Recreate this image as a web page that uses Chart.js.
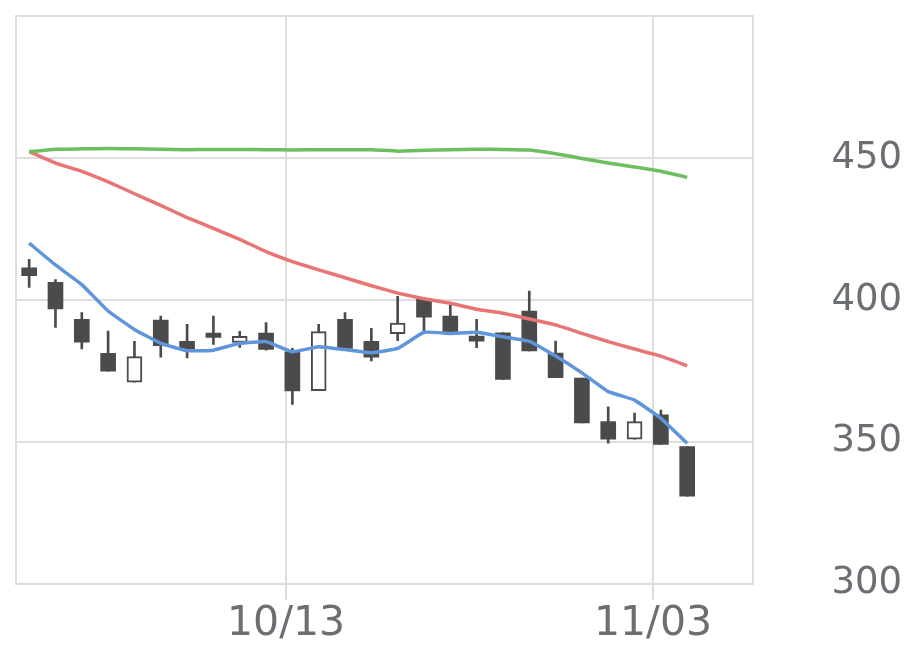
<!DOCTYPE html>
<html>
<head>
<meta charset="utf-8">
<script src="https://cdn.jsdelivr.net/npm/chart.js@4.4.1/dist/chart.umd.min.js"></script>
<style>
  html, body { margin: 0; padding: 0; background: #fff; }
  #wrap { width: 920px; height: 669px; }
</style>
</head>
<body>
<div id="wrap"><canvas id="stockChart" width="920" height="669"></canvas></div>
<script>
// trading days (index on the x axis)
const dates = ['09/29', '09/30', '10/01', '10/02', '10/03', '10/06', '10/07', '10/08', '10/09', '10/10',
    '10/14', '10/15', '10/16', '10/17', '10/20', '10/21', '10/22', '10/23', '10/24', '10/27',
    '10/28', '10/29', '10/30', '10/31', '11/04', '11/05'];

const opens  = [411.3, 406.2, 393.2, 381.2, 371.0, 392.9, 385.4, 388.3, 385.0, 388.3,
    381.7, 368.0, 393.2, 385.4, 388.1, 400.3, 394.3, 387.3, 388.4, 396.1,
    381.3, 372.5, 357.1, 350.9, 359.5, 348.3];
const highs  = [414.3, 407.2, 395.5, 389.0, 385.4, 394.3, 391.4, 394.3, 388.9, 392.0,
    382.9, 391.4, 395.5, 390.0, 401.3, 400.8, 398.2, 393.2, 388.4, 403.1,
    385.5, 372.5, 362.3, 360.1, 361.2, 348.3];
const lows   = [404.4, 390.3, 382.7, 374.9, 371.0, 379.8, 379.6, 384.3, 383.3, 382.3,
    363.2, 368.0, 382.8, 378.5, 385.6, 388.8, 388.2, 383.2, 372.0, 382.0,
    372.6, 356.7, 349.5, 350.9, 349.1, 330.9];
const closes = [408.5, 396.8, 385.1, 374.9, 380.0, 383.9, 382.6, 386.8, 387.2, 382.6,
    367.9, 388.8, 382.9, 379.8, 391.8, 393.9, 388.2, 385.5, 372.0, 382.0,
    372.6, 356.7, 350.9, 357.1, 349.1, 330.9];

// moving averages
const maShort = [420.0, 412.3, 405.4, 396.1, 389.6, 384.7, 382.1, 382.3, 384.7, 385.3,
    381.7, 383.5, 382.5, 381.4, 382.9, 388.6, 388.2, 388.6, 387.0, 385.4,
    380.2, 374.3, 367.7, 364.7, 358.3, 349.5];
const maMid   = [452.2, 448.2, 445.3, 441.6, 437.4, 433.3, 429.0, 425.2, 421.3, 417.0,
    413.5, 410.6, 407.8, 405.0, 402.4, 400.4, 398.8, 396.7, 395.3, 393.3,
    391.2, 388.2, 385.3, 382.7, 380.2, 376.8];
const maLong  = [452.2, 453.1, 453.2, 453.3, 453.2, 453.1, 452.9, 453.0, 453.0, 452.9,
    452.8, 452.9, 452.9, 452.9, 452.4, 452.7, 452.9, 453.1, 453.0, 452.8,
    451.5, 449.8, 448.2, 446.8, 445.3, 443.2];

// date ticks (holidays fall between trading days)
const tickLabels = ['10/13', '11/03'];
const tickAt = [9.76, 23.7];

const DARK = '#4b4b4b';
const GRID = '#dedede';
const TEXT = '#6b6e73';

const bodies = dates.map((d, i) => ({ x: i, y: [opens[i], closes[i]] }));
const wicks = dates.map((d, i) => ({ x: i, y: [lows[i], highs[i]] }));
const up = dates.map((d, i) => closes[i] > opens[i]);

function maLine(values, color) {
    return {
        type: 'line',
        data: values.map((v, i) => ({ x: i, y: v })),
        borderColor: color,
        borderWidth: 3.5,
        pointRadius: 0,
        tension: 0.1,
        order: 0
    };
}

// box round the plot area
const frame = {
    id: 'frame',
    beforeDatasetsDraw(chart) {
        const a = chart.chartArea;
        const ctx = chart.ctx;
        ctx.save();
        ctx.strokeStyle = GRID;
        ctx.lineWidth = 2;
        ctx.strokeRect(a.left, a.top, a.right - a.left, a.bottom - a.top);
        ctx.restore();
    }
};

new Chart(document.getElementById('stockChart').getContext('2d'), {
    type: 'bar',
    data: {
        datasets: [
            maLine(maLong, '#6cbf5e'),
            maLine(maMid, '#e87474'),
            maLine(maShort, '#5f96db'),
            {
                data: bodies,
                barThickness: 15,
                grouped: false,
                backgroundColor: up.map(u => u ? '#ffffff' : DARK),
                borderColor: DARK,
                borderWidth: up.map(u => u ? 2 : 0),
                borderSkipped: false,
                order: 1
            },
            {
                data: wicks,
                barThickness: 2,
                grouped: false,
                backgroundColor: DARK,
                order: 2
            }
        ]
    },
    options: {
        responsive: false,
        animation: false,
        layout: { padding: { left: 16, top: 16, right: 18, bottom: 20 } },
        plugins: {
            legend: { display: false },
            tooltip: { enabled: false }
        },
        scales: {
            x: {
                type: 'linear',
                min: -0.5,
                max: 27.5,
                offset: false,
                afterBuildTicks: axis => {
                    axis.ticks = tickAt.map(v => ({ value: v }));
                },
                afterFit: axis => {
                    axis.paddingLeft = 0;
                    axis.paddingRight = 0;
                },
                grid: {
                    color: GRID,
                    lineWidth: 2,
                    offset: false,
                    tickLength: 16,
                    tickColor: '#d3dbe6'
                },
                border: { display: false },
                ticks: {
                    autoSkip: false,
                    maxRotation: 0,
                    padding: 0,
                    color: TEXT,
                    font: { family: 'DejaVu Sans', size: 41 },
                    callback: v => tickLabels[tickAt.indexOf(v)]
                }
            },
            y: {
                position: 'right',
                min: 300,
                max: 500,
                afterFit: axis => {
                    axis.width = 149;
                    axis.paddingTop = 0;
                    axis.paddingBottom = 0;
                },
                grid: { color: GRID, lineWidth: 2, drawTicks: false },
                border: { display: false },
                ticks: {
                    stepSize: 50,
                    padding: 0,
                    crossAlign: 'far',
                    color: TEXT,
                    font: { family: 'DejaVu Sans', size: 37 },
                    callback: v => (v === 500 ? '' : v)
                }
            }
        }
    },
    plugins: [frame]
});
</script>
</body>
</html>
